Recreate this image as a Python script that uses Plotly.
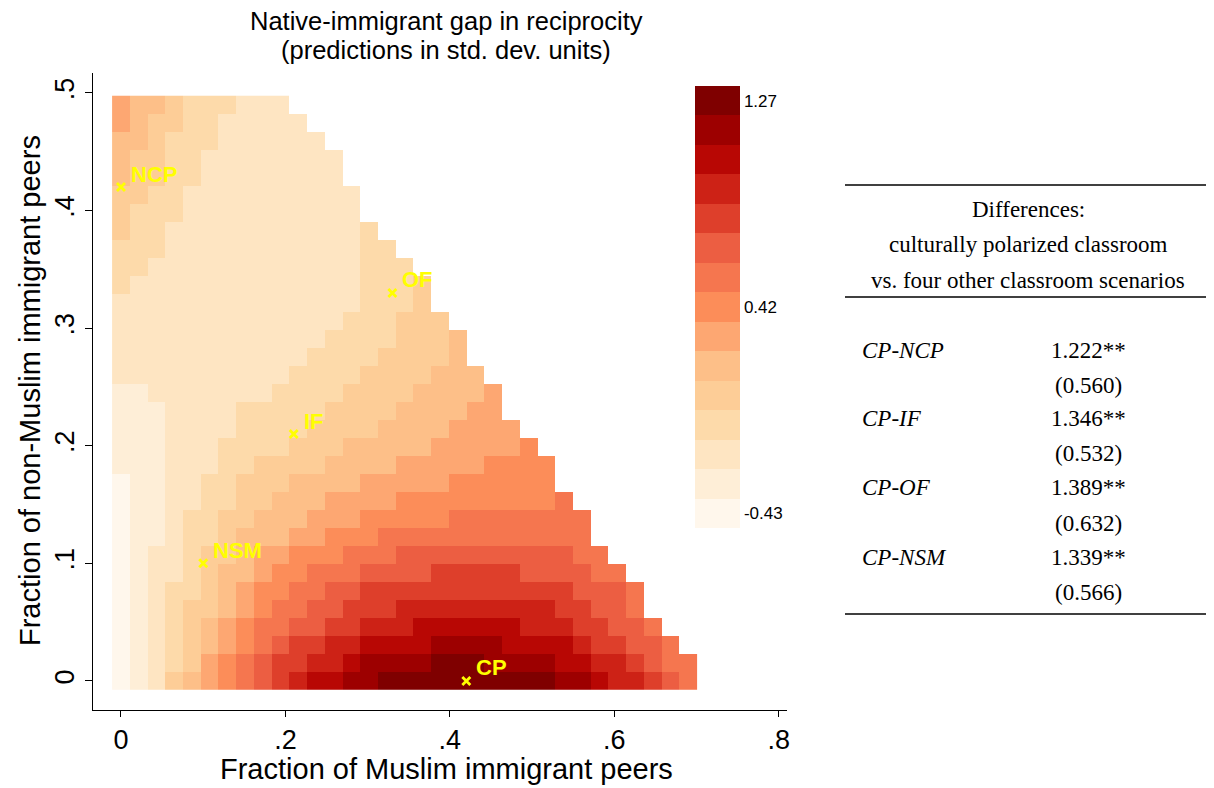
import numpy as np
import plotly.graph_objects as go

W, H = 1214, 788

# ---------------- data ----------------
title_lines = ["Native-immigrant gap in reciprocity", "(predictions in std. dev. units)"]
x_title = "Fraction of Muslim immigrant peers"
y_title = "Fraction of non-Muslim immigrant peers"

x_tickvals = [0, 0.2, 0.4, 0.6, 0.8]
x_ticktext = ["0", ".2", ".4", ".6", ".8"]
y_tickvals = [0, 0.1, 0.2, 0.3, 0.4, 0.5]
y_ticktext = ["0", ".1", ".2", ".3", ".4", ".5"]

# grid of predictions: 33 x 33 cells
x_grid = np.linspace(0.0, 0.69, 33)
y_grid = np.linspace(0.0, 0.49, 33)

# value of each colour level (colorbar bins, lightest -> darkest)
level_values = [-0.43, -0.309, -0.187, -0.066, 0.056, 0.177, 0.299, 0.42,
                0.541, 0.663, 0.784, 0.906, 1.027, 1.149, 1.27]
level_colors = ["#fff7ec", "#feeed7", "#fee5c2", "#fddaaa", "#fdcd97",
                "#fdbf88", "#fda772", "#fc8d59", "#f5764f", "#ec5e42",
                "#de3f2b", "#cd2216", "#b80704", "#9d0000", "#7f0000"]
colorbar_ticks = [-0.43, 0.42, 1.27]
colorbar_labels = ["-0.43", "0.42", "1.27"]

# level index (hex digit) of every cell, one string per row, bottom row first
level_rows = [
    "012456789abccdd" + "eeeeeeeeee" + "ddcbba98",
    "012346789aabbcd" + "dddeeeddddccbba988",
    "0123456789aabbc" + "cccddddccccbaa998",
    "012345678899aab" + "bbccccccbbbaa998",
    "0123445678899aa" + "abbbbbbbbbaa998",
    "01233456778899a" + "aaaaaaaaaaa9998",
    "012234556778889" + "999aaaaa999988",
    "012234456677788" + "8999999999988",
    "011233455566777" + "888888888888",
    "011233445556667" + "777788888888",
    "011223344555666" + "67777777778",
    "011223344455556" + "6666777777",
    "111222334444555" + "5666667777",
    "111222333344455" + "555666667",
    "111222233334444" + "55556666",
    "111222233333444" + "4555566",
    "112222222333344" + "4455556",
    "222222222233334" + "444555",
    "222222222223333" + "44445",
    "222222222222333" + "34445",
    "222222222222233" + "3444",
    "222222222222223" + "334",
    "322222222222223" + "334",
    "332222222222223" + "33",
    "333222222222223" + "3",
    "433222222222223",
    "43332222222222",
    "44332222222222",
    "5443322222222",
    "5443322222222",
    "554333222222",
    "65443322222",
    "6554333222",
]

scenario_names = ["NCP", "OF", "IF", "NSM", "CP"]
scenario_x = [0.0, 0.33, 0.21, 0.10, 0.42]
scenario_y = [0.42, 0.33, 0.21, 0.10, 0.0]

table_header = ["Differences:", "culturally polarized classroom",
                "vs. four other classroom scenarios"]
table_labels = ["CP-NCP", "CP-IF", "CP-OF", "CP-NSM"]
table_coefs = ["1.222**", "1.346**", "1.389**", "1.339**"]
table_ses = ["(0.560)", "(0.532)", "(0.632)", "(0.566)"]

# ---------------- build ----------------
z = []
for row in level_rows:
    vals = [level_values[int(ch, 16)] for ch in row]
    vals += [None] * (len(x_grid) - len(vals))
    z.append(vals)

n = len(level_colors)
step = (level_values[-1] - level_values[0]) / (n - 1)
zmin = level_values[0] - step / 2
zmax = level_values[-1] + step / 2
colorscale = []
for k, c in enumerate(level_colors):
    colorscale.append([k / n, c])
    colorscale.append([(k + 1) / n, c])

# plot area in screenshot pixels (page body adds an 8px offset)
OFF = 8
PL, PR, PT, PB = 93, 787, 73, 710
PW, PH = PR - PL, PB - PT


def px_x(p):
    return (p - PL) / PW


def px_y(p):
    return (PB - p) / PH


font_sans = "Liberation Sans"
font_serif = "Liberation Serif"

fig = go.Figure()
fig.add_trace(go.Heatmap(
    x=x_grid, y=y_grid, z=z,
    colorscale=colorscale, zmin=zmin, zmax=zmax,
    hoverinfo="skip",
    colorbar=dict(
        x=px_x(695), xanchor="left", xpad=0,
        y=px_y(307), yanchor="middle", ypad=0,
        thickness=45, len=442, lenmode="pixels",
        outlinewidth=0, ticks="", ticklen=0,
        tickvals=colorbar_ticks, ticktext=colorbar_labels,
        tickfont=dict(family=font_sans, size=17, color="black"),
    ),
))

fig.add_trace(go.Scatter(
    x=scenario_x, y=scenario_y, mode="markers",
    marker=dict(symbol="x-thin", size=8, color="#ffff00",
                line=dict(color="#ffff00", width=2.8)),
    hoverinfo="skip", showlegend=False, cliponaxis=False,
))


def ann(x, y, text, size, family=font_sans, xanchor="center", **kw):
    return dict(x=px_x(x), y=px_y(y), xref="paper", yref="paper", text=text,
                showarrow=False, xanchor=xanchor, yanchor="middle",
                font=dict(family=family, size=size, color="black"), **kw)


annotations = []
# scenario labels next to their markers
for name, sx, sy in zip(scenario_names, scenario_x, scenario_y):
    annotations.append(dict(x=sx, y=sy, xref="x", yref="y", text=name,
                            showarrow=False, xanchor="left", yanchor="middle",
                            xshift=8, yshift=13,
                            font=dict(family=font_sans, size=22, color="#ffff00",
                                      weight="bold")))

annotations.append(ann(446, 21, title_lines[0], 25.5))
annotations.append(ann(446, 50, title_lines[1], 25.5))
annotations.append(ann(446, 769, x_title, 29))
annotations.append(ann(30, 391, y_title, 29, textangle=-90))

header_y = [210, 244, 280]
for t, yy in zip(table_header, header_y):
    annotations.append(ann(1028, yy, t, 23, family=font_serif))
row_y = [350, 418, 488, 557]
for lab, coef, se, yy in zip(table_labels, table_coefs, table_ses, row_y):
    annotations.append(ann(860, yy, "<i>" + lab + "</i>", 23, family=font_serif,
                           xanchor="left"))
    annotations.append(ann(1088, yy, coef, 23, family=font_serif))
    annotations.append(ann(1088, yy + 35, se, 23, family=font_serif))

shapes = []
for yy in [185, 297, 614]:
    shapes.append(dict(type="line", xref="paper", yref="paper",
                       x0=px_x(845), x1=px_x(1212), y0=px_y(yy), y1=px_y(yy),
                       line=dict(color="black", width=1.3)))

fig.update_layout(
    width=W, height=H,
    margin=dict(l=PL - OFF, r=W - PR + OFF, t=PT - OFF, b=H - PB + OFF),
    paper_bgcolor="white", plot_bgcolor="white",
    showlegend=False,
    annotations=annotations, shapes=shapes,
    xaxis=dict(range=[-0.034, 0.81], tickvals=x_tickvals, ticktext=x_ticktext,
               showgrid=False, zeroline=False, showline=True, linecolor="black",
               linewidth=1, ticks="outside", ticklen=6, tickcolor="black",
               tickfont=dict(family=font_sans, size=27, color="black")),
    yaxis=dict(range=[-0.0247, 0.517], tickvals=y_tickvals, ticktext=y_ticktext,
               showgrid=False, zeroline=False, showline=True, linecolor="black",
               linewidth=1, ticks="outside", ticklen=7, tickcolor="black",
               tickangle=-90,
               tickfont=dict(family=font_sans, size=27, color="black")),
)

fig.write_html("out.html")
